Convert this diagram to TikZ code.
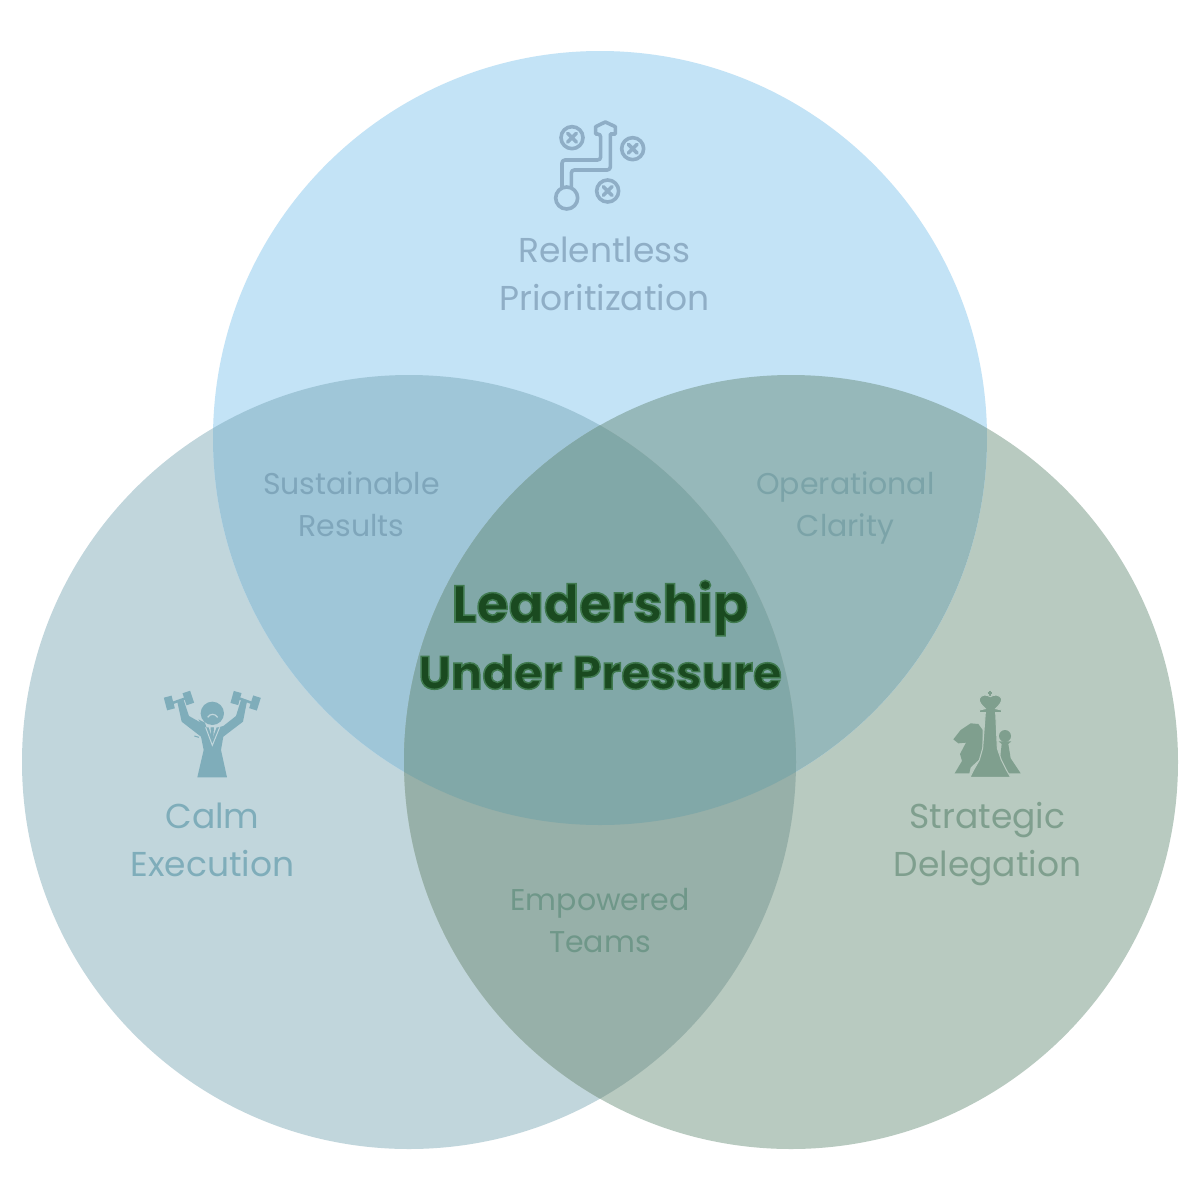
\documentclass[tikz,border=0pt]{standalone}
\usepackage{fontspec}
\setmainfont{Poppins}
\newfontfamily\ctrfont{Poppins Bold}
\definecolor{cT}{HTML}{C3E3F6}
\definecolor{cL}{HTML}{C1D6DC}
\definecolor{cR}{HTML}{B8CAC0}
\definecolor{cTL}{HTML}{9FC6D8}
\definecolor{cTR}{HTML}{96B8BA}
\definecolor{cLR}{HTML}{97B0A9}
\definecolor{cC}{HTML}{81A8A8}
\definecolor{tT}{HTML}{8FAEC6}
\definecolor{tL}{HTML}{7FADBA}
\definecolor{tR}{HTML}{7F9F8E}
\definecolor{tTL}{HTML}{7FA6BB}
\definecolor{tTR}{HTML}{7BA3A8}
\definecolor{tLR}{HTML}{6F9789}
\definecolor{tC}{HTML}{1A4A20}
\tikzset{
  main/.style={font=\fontsize{34.5}{48}\selectfont,align=center,inner sep=0pt},
  sub/.style={font=\fontsize{30}{42}\selectfont,align=center,inner sep=0pt},
  ctr/.style={text=tC,inner sep=0pt,anchor=base},
  ring/.style={draw=tT,line width=3.6pt,line cap=round,line join=round},
}
\def\topc{(600,438) circle (387)}
\def\leftc{(409,762) circle (387)}
\def\rightc{(791,762) circle (387)}
\def\outl{\special{pdf:code 2 Tr 1.5 w 0.25 0.48 0.31 RG}}
\begin{document}
\begin{tikzpicture}[x=1pt,y=-1pt]
\useasboundingbox (0,0) rectangle (1200,1200);
\fill[white] (0,0) rectangle (1200,1200);
% circles and overlaps
\fill[cL] \leftc;
\fill[cR] \rightc;
\fill[cT] \topc;
\begin{scope}\clip \topc; \fill[cTL] \leftc; \fill[cTR] \rightc; \end{scope}
\begin{scope}\clip \leftc; \fill[cLR] \rightc; \end{scope}
\begin{scope}\clip \topc; \clip \leftc; \fill[cC] \rightc; \end{scope}
% labels
\node[main,text=tT] (lblT) at (604.5,274) {Relentless\\Prioritization};
\node[main,text=tL] (lblL) at (212.5,840) {Calm\\Execution};
\node[main,text=tR] (lblR) at (987.5,844) {Strategic\\Delegation};
\node[sub,text=tTL] (lblTL) at (351.5,504.5) {Sustainable\\Results};
\node[sub,text=tTR] (lblTR) at (845.5,507.5) {Operational\\Clarity};
\node[sub,text=tLR] (lblLR) at (600,920.5) {Empowered\\Teams};
% centre
\node[ctr,font=\ctrfont\fontsize{52}{60}\selectfont] (c1) at (600,622) {\outl Leadership};
\node[ctr,font=\ctrfont\fontsize{46.5}{60}\selectfont] (c2) at (600,689) {\outl Under Pressure};
% icon top
\begin{scope}[shift={(540,110)},x=0.3333pt,y=-0.3333pt]
\foreach \cx/\cy in {96/83,278/116,203/243}{
  \draw[ring] (\cx,\cy) circle (33);
  \draw[ring] (\cx-13,\cy-13) -- (\cx+13,\cy+13) (\cx-13,\cy+13) -- (\cx+13,\cy-13);
}
\draw[ring] (80,264) circle (33);
\draw[ring,rounded corners=3pt] (66,232) -- (66,150) -- (182,150) -- (182,72) [sharp corners] -- (167,72) -- (167,50) -- (196,36) -- (226,50) -- (226,72) -- (211,72) [rounded corners=3pt] -- (211,180) -- (94,180) -- (94,232);
\end{scope}
% icon left
\begin{scope}[shift={(155,680)},x=0.3333pt,y=-0.3333pt]
\fill[tL] (172,100) circle (35);
\draw[cL,line width=1.2pt] (158,112) .. controls (165,100) and (180,100) .. (188,112);
\draw[tL,line width=2.5pt] (44,72) -- (100,52);
\draw[tL,line width=8pt] (38,50) -- (48,88);
\draw[tL,line width=8pt] (94,36) -- (106,72);
\draw[tL,line width=2.5pt] (300,72) -- (244,52);
\draw[tL,line width=8pt] (306,50) -- (294,88);
\draw[tL,line width=8pt] (248,36) -- (238,72);
\fill[tL] (67,66) -- (86,60) -- (102,108) -- (148,134) -- (155,142) -- (190,142) -- (205,138) -- (243,108) -- (258,60) -- (276,64) -- (264,125) -- (205,170) -- (198,210) -- (216,292) -- (127,292) -- (146,210) -- (138,170) -- (80,125) -- cycle;
\fill[tL] (130,118) -- (150,128) -- (155,145) -- (140,135) -- cycle;
\draw[cL,line width=1pt] (152,142) -- (172,196) -- (194,142);
\fill[cL] (160,138) -- (172,176) -- (186,138) -- (176,142) -- (170,142) -- cycle;
\fill[tL] (167,142) -- (177,142) -- (175,170) -- (172,176) -- (168,170) -- cycle;
\draw[tL,line width=1pt] (118,168) -- (132,172);
\end{scope}
% icon right
\begin{scope}[shift={(940,680)},x=0.3333pt,y=-0.3333pt]
\fill[tR] (40,178) -- (62,150) -- (92,130) -- (115,132) -- (128,150) -- (128,205) -- (118,238) -- (92,262) -- (88,280) -- (44,280) -- (66,243) -- (60,222) -- (78,188) -- (55,190) -- cycle;
\fill[tR] (195,168) circle (18);
\fill[tR] (176,184) -- (214,184) -- (205,192) -- (212,235) -- (242,280) -- (205,280) -- (180,240) -- (185,192) -- cycle;
\draw[tR,line width=1.5pt] (150,32) -- (150,48) (143,39) -- (157,39);
\fill[tR,draw=cR,line width=1pt] (90,292) -- (102,268) -- (118,240) -- (128,205) -- (136,98) -- (118,98) -- (118,90) -- (136,86) .. controls (125,76) and (116,66) .. (118,56) .. controls (122,44) and (140,42) .. (151,50) .. controls (162,42) and (180,44) .. (185,56) .. controls (186,66) and (178,76) .. (167,86) -- (185,90) -- (185,98) -- (167,98) -- (172,205) -- (184,240) -- (198,268) -- (212,292) -- cycle;
\end{scope}
\end{tikzpicture}
\end{document}
